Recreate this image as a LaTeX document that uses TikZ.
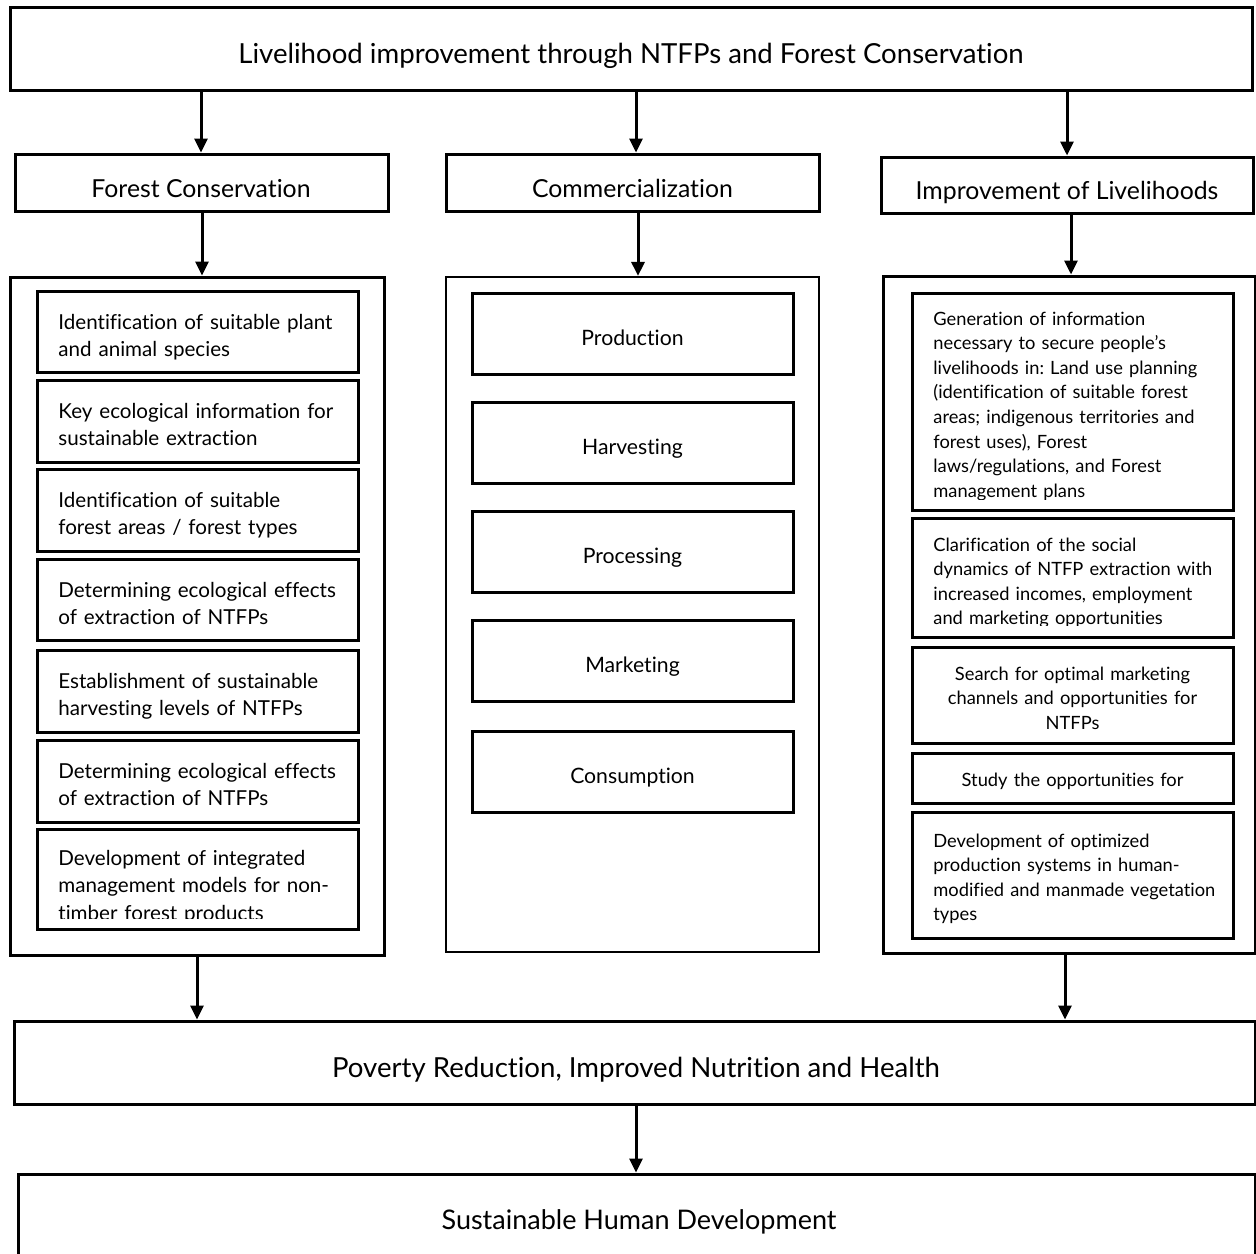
\documentclass[tikz,border=0pt]{standalone}
\usepackage{fontspec}
\setmainfont{Lato}[Ligatures={NoCommon}]
\frenchspacing
\usetikzlibrary{arrows.meta,fit}

\tikzset{
  frame/.style={draw=black, line width=1.5pt, inner sep=0pt, rectangle},
  thinframe/.style={draw=black, line width=1.1pt, inner sep=0pt, rectangle},
  arr/.style={line width=1.5pt, -{Triangle[width=6.5pt,length=7pt]}},
  titletxt/.style={anchor=base, inner sep=0pt, font=\fontsize{13.8}{16}\selectfont},
  headtxt/.style={anchor=base, inner sep=0pt, font=\fontsize{12.4}{15}\selectfont},
  lefttxt/.style={anchor=base west, inner sep=0pt, text width=155pt, align=left,
                  font=\fontsize{10.3}{13.8}\selectfont},
  midtxt/.style={anchor=base, inner sep=0pt, font=\fontsize{10.6}{12}\selectfont},
  righttxt/.style={anchor=base west, inner sep=0pt, text width=152pt, align=left,
                   font=\fontsize{9.15}{12.3}\selectfont},
  rightctr/.style={anchor=base, inner sep=0pt, text width=158pt, align=center,
                   font=\fontsize{9.15}{12.3}\selectfont},
}

\begin{document}
\begin{tikzpicture}[x=0.5pt,y=-0.5pt]
\useasboundingbox (0,0) rectangle (1256,1253);
\clip (0,0) rectangle (1256,1253);
\fill[white] (0,0) rectangle (1256,1253);

% ---- top goal ----
\node[frame, fit={(10,7) (1252,90)}] (goal) {};
\node[titletxt] (goaltxt) at (631,63) {Livelihood improvement through NTFPs and Forest Conservation};

% ---- three pillars ----
\node[frame, fit={(15,154) (388,211)}] (fc) {};
\node[headtxt] (fctxt) at (201,197) {Forest Conservation};
\node[frame, fit={(446,154) (819,211)}] (com) {};
\node[headtxt] (comtxt) at (632.5,197) {Commercialization};
\node[frame, fit={(881,157) (1253,213)}] (liv) {};
\node[headtxt] (livtxt) at (1067,199) {Improvement of Livelihoods};

% ---- column containers ----
\node[frame, fit={(10,277) (384,955)}] (lc) {};
\node[thinframe, fit={(446,277) (819,952)}] (mc) {};
\node[frame, fit={(883,276) (1255,953)}] (rc) {};

% ---- forest conservation column ----
\node[frame, fit={(37,291) (358,372)}] (l1) {};
\node[lefttxt] (l1t) at (58,329) {Identification of suitable plant\\and animal species};
\node[frame, fit={(37,380) (358,462)}] (l2) {};
\node[lefttxt] (l2t) at (58,418) {Key ecological information for\\sustainable extraction};
\node[frame, fit={(37,469) (358,551)}] (l3) {};
\node[lefttxt] (l3t) at (58,507) {Identification of suitable\\forest areas / forest types};
\node[frame, fit={(37,559) (358,640)}] (l4) {};
\node[lefttxt] (l4t) at (58,597) {Determining ecological effects\\of extraction of NTFPs};
\node[frame, fit={(37,650) (358,732)}] (l5) {};
\node[lefttxt] (l5t) at (58,688) {Establishment of sustainable\\harvesting levels of NTFPs};
\node[frame, fit={(37,740) (358,822)}] (l6) {};
\node[lefttxt] (l6t) at (58,778) {Determining ecological effects\\of extraction of NTFPs};
\node[frame, fit={(37,829) (358,929)}] (l7) {};
\begin{scope}
  \clip (37,829) rectangle (358,918);
  \node[lefttxt] (l7t) at (58,865) {Development of integrated\\management models for non-\\timber forest products};
\end{scope}

% ---- commercialization column ----
\node[frame, fit={(472,293) (793,374)}] (m1) {};
\node[midtxt] (m1t) at (632.5,345) {Production};
\node[frame, fit={(472,402) (793,483)}] (m2) {};
\node[midtxt] (m2t) at (632.5,454) {Harvesting};
\node[frame, fit={(472,511) (793,592)}] (m3) {};
\node[midtxt] (m3t) at (632.5,563) {Processing};
\node[frame, fit={(472,620) (793,701)}] (m4) {};
\node[midtxt] (m4t) at (632.5,672) {Marketing};
\node[frame, fit={(472,731) (793,812)}] (m5) {};
\node[midtxt] (m5t) at (632.5,783) {Consumption};

% ---- livelihoods column ----
\node[frame, fit={(912,293) (1233,510)}] (r1) {};
\begin{scope}
  \clip (912,293) rectangle (1233,499);
  \node[righttxt] (r1t) at (933,325) {Generation of information\\necessary to secure people’s\\livelihoods in: Land use planning\\(identification of suitable forest\\areas; indigenous territories and\\forest uses), Forest\\laws/regulations, and Forest\\management plans};
\end{scope}
\node[frame, fit={(912,518) (1233,637)}] (r2) {};
\begin{scope}
  \clip (912,518) rectangle (1233,625);
  \node[righttxt] (r2t) at (933,551) {Clarification of the social\\dynamics of NTFP extraction with\\increased incomes, employment\\and marketing opportunities};
\end{scope}
\node[frame, fit={(912,647) (1233,743)}] (r3) {};
\node[rightctr] (r3t) at (1072.5,680) {Search for optimal marketing\\channels and opportunities for\\NTFPs};
\node[frame, fit={(912,753) (1233,803)}] (r4) {};
\node[rightctr] (r4t) at (1072.5,786) {Study the opportunities for};
\node[frame, fit={(912,812) (1233,938)}] (r5) {};
\node[righttxt] (r5t) at (933,847) {Development of optimized\\production systems in human-\\modified and manmade vegetation\\types};

% ---- outcomes ----
\node[frame, fit={(14,1021) (1255,1104)}] (pov) {};
\node[titletxt] (povtxt) at (636,1077) {Poverty Reduction, Improved Nutrition and Health};
\node[frame, fit={(18,1174) (1255,1290)}] (shd) {};
\node[titletxt, font=\fontsize{13.5}{16}\selectfont] (shdtxt) at (639,1229) {Sustainable Human Development};

% ---- connector columns ----
\coordinate (xa) at (201,0);
\coordinate (xb) at (636,0);
\coordinate (xc) at (1067,0);
\coordinate (xd) at (202,0);
\coordinate (xe) at (638,0);
\coordinate (xf) at (1071,0);
\coordinate (xg) at (197,0);
\coordinate (xh) at (1065,0);
\coordinate (xi) at (636,0);

\draw[arr] (goal.south -| xa) -- (fc.north -| xa);
\draw[arr] (goal.south -| xb) -- (com.north -| xb);
\draw[arr] (goal.south -| xc) -- (liv.north -| xc);
\draw[arr] (fc.south -| xd) -- (lc.north -| xd);
\draw[arr] (com.south -| xe) -- (mc.north -| xe);
\draw[arr] (liv.south -| xf) -- (rc.north -| xf);
\draw[arr] (lc.south -| xg) -- (pov.north -| xg);
\draw[arr] (rc.south -| xh) -- (pov.north -| xh);
\draw[arr] (pov.south -| xi) -- (shd.north -| xi);
\end{tikzpicture}
\end{document}
